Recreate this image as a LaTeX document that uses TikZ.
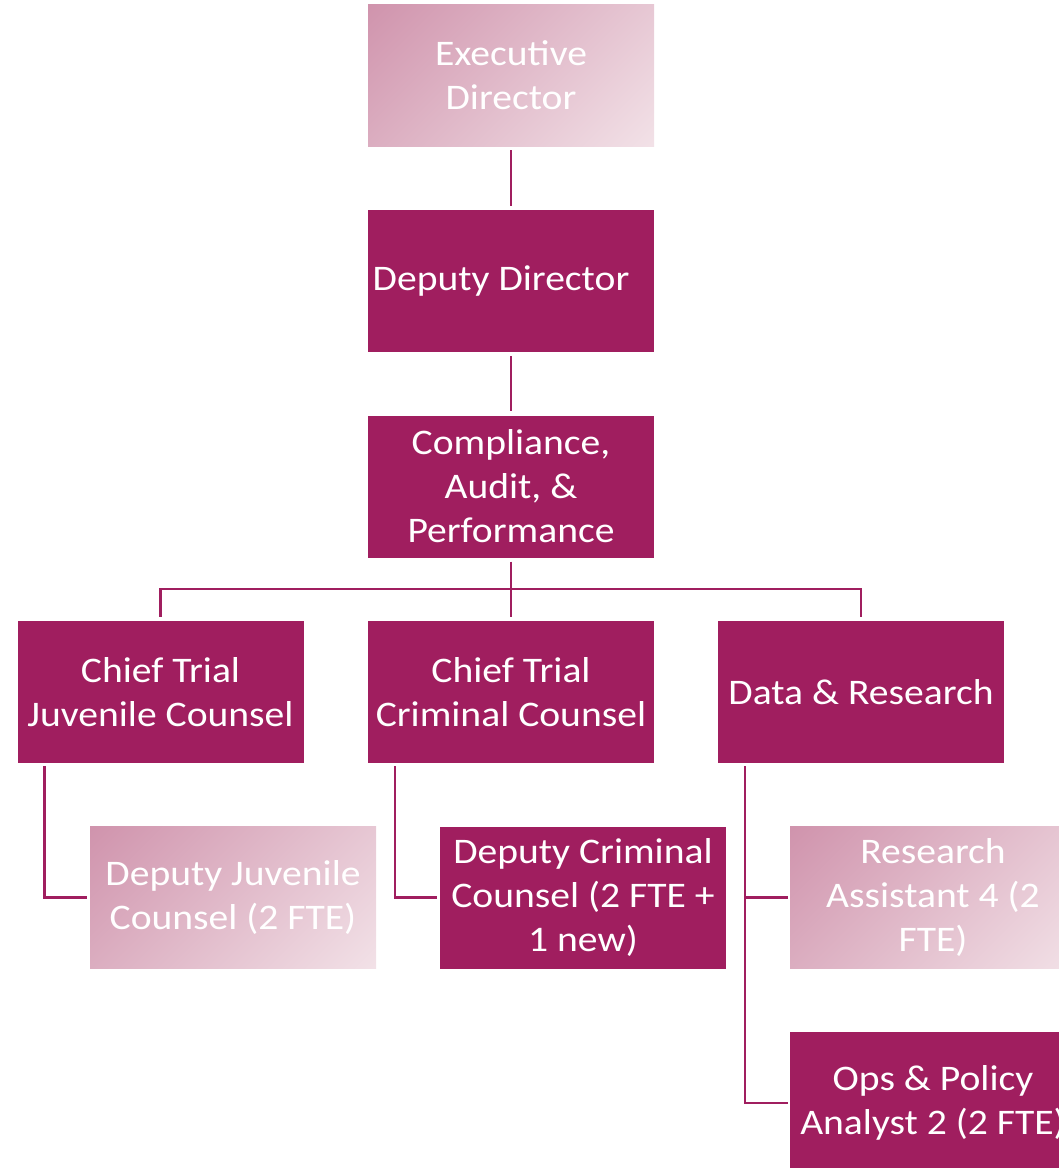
\documentclass[tikz,border=0pt]{standalone}
\usepackage{fontspec}
\setmainfont{Carlito}[FakeStretch=1.1]
\definecolor{plum}{RGB}{160,30,95}
\definecolor{pinkA}{RGB}{208,148,173}
\definecolor{pinkB}{RGB}{242,225,231}
\pgfdeclareverticalshading{diagpink}{100bp}{color(0bp)=(pinkB); color(15bp)=(pinkB); color(85bp)=(pinkA); color(100bp)=(pinkA)}
\tikzset{
  box/.style={minimum width=286pt, minimum height=142pt, inner sep=0pt, align=center,
    text=white, font=\fontsize{36}{44}\selectfont},
  dark/.style={box, fill=plum},
  light/.style={box, shading=diagpink, shading angle=45},
  conn/.style={draw=plum, line width=2.6pt},
}
\begin{document}
\begin{tikzpicture}[x=1pt,y=-1pt]
\useasboundingbox (0,0) rectangle (1059,1168);
\clip (0,0) rectangle (1059,1168);
\node[light] (exec) at (511,75) {Executive\\Director};
\node[dark] (dep) at (511,281) {};
\node[text=white, font=\fontsize{36}{44}\selectfont] (deplbl) at (501,281) {Deputy Director};
\node[dark] (comp) at (511,486.5) {Compliance,\\Audit, \&\\Performance};
\node[dark] (cj) at (160.5,692) {Chief Trial\\Juvenile Counsel};
\node[dark] (cc) at (511,692) {Chief Trial\\Criminal Counsel};
\node[dark] (dr) at (861,692) {Data \& Research};
\node[light] (dj) at (233,897.5) {Deputy Juvenile\\Counsel (2 FTE)};
\node[dark] (dc) at (583,897.5) {Deputy Criminal\\Counsel (2 FTE +\\1 new)};
\node[light] (ra) at (933,897.5) {Research\\Assistant 4 (2\\FTE)};
\node[dark] (op) at (933,1103) {Ops \& Policy\\Analyst 2 (2 FTE)};
\coordinate (bus) at (511,589);
\draw[conn, shorten <=4pt, shorten >=4pt] (exec.south) -- (dep.north);
\draw[conn, shorten <=4pt, shorten >=4pt] (dep.south) -- (comp.north);
\draw[conn, shorten <=4pt, shorten >=4pt] (comp.south) -- (cc.north);
\draw[conn, shorten <=4pt, shorten >=4pt] (cj.north) -- (cj.north |- bus) -- (dr.north |- bus) -- (dr.north);
\coordinate (cjx) at ([xshift=27pt]cj.south west);
\coordinate (ccx) at ([xshift=27pt]cc.south west);
\coordinate (drx) at ([xshift=27pt]dr.south west);
\draw[conn, shorten <=3pt, shorten >=3pt] (cjx) -- (cjx |- dj.west) -- (dj.west);
\draw[conn, shorten <=3pt, shorten >=3pt] (ccx) -- (ccx |- dc.west) -- (dc.west);
\draw[conn, shorten <=3pt, shorten >=2pt] (drx) -- (drx |- op.west) -- (op.west);
\draw[conn, shorten >=2pt] (drx |- ra.west) -- (ra.west);
\end{tikzpicture}
\end{document}
